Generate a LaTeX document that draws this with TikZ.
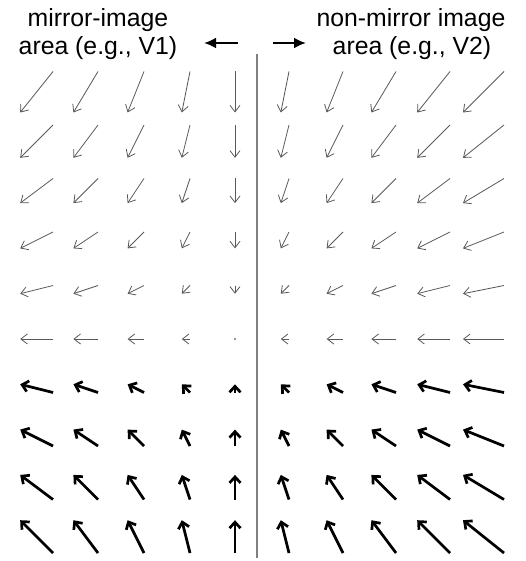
\documentclass[tikz,border=0pt]{standalone}
\usepackage{fontspec}
\setmainfont{Liberation Sans}
\usetikzlibrary{arrows.meta}

\begin{document}
\begin{tikzpicture}[x=1pt, y=-1pt,
  thinvec/.style={draw=black!65, line width=0.8pt, -{Straight Barb[length=6.5pt,width=10pt]}},
  thickvec/.style={draw=black, line width=2.7pt, -{Straight Barb[length=6pt,width=11pt]}},
  vecrow/.code={\ifnum#1<7 \pgfkeysalso{thinvec}\else\pgfkeysalso{thickvec}\fi},
  headtxt/.style={font=\fontsize{24.8}{28}\selectfont, anchor=base, inner sep=0pt},
  dirarr/.style={line width=2.6pt, -{Latex[length=12pt,width=11pt]}}]
\useasboundingbox (0,0) rectangle (525,561);

% headings
\node[headtxt] (lt1) at (98,27) {mirror-image};
\node[headtxt] (lt2) at (98,55) {area (e.g., V1)};
\node[headtxt] (rt1) at (411,27) {non-mirror image};
\node[headtxt] (rt2) at (412,55) {area (e.g., V2)};
\coordinate (al1) at (238,43); \coordinate (al2) at (204,43);
\coordinate (ar1) at (273,43); \coordinate (ar2) at (306,43);
\draw[dirarr] (al1) -- (al2);
\draw[dirarr] (ar1) -- (ar2);

% midline
\coordinate (top) at (257,54); \coordinate (bot) at (257,558);
\draw[black!50, line width=1.2pt] (top) -- (bot);

% vector fields: side/column/x/offset
\foreach \s/\c/\x/\d in {L/1/53/4,L/2/98/3,L/3/144/2,L/4/190/1,L/5/235/0,
                         R/1/289/1,R/2/343/2,R/3/396/3,R/4/450/4,R/5/504/5} {
  \foreach \r in {1,...,10} {
    \coordinate (\s\r-\c) at ({\x},{339+(\r-6)*53.5});
    \coordinate (\s\r-\c h) at ({\x-8.2*\d},{339+(\r-6)*53.5+8.2*(6-\r)});
    \pgfmathtruncatemacro\zero{and(\d==0,\r==6)}
    \ifnum\zero=1
      \fill[black!55] (\s\r-\c) circle (1.1pt);
    \else
      \draw[vecrow=\r] (\s\r-\c) -- (\s\r-\c h);
    \fi
  }
}
\end{tikzpicture}
\end{document}
